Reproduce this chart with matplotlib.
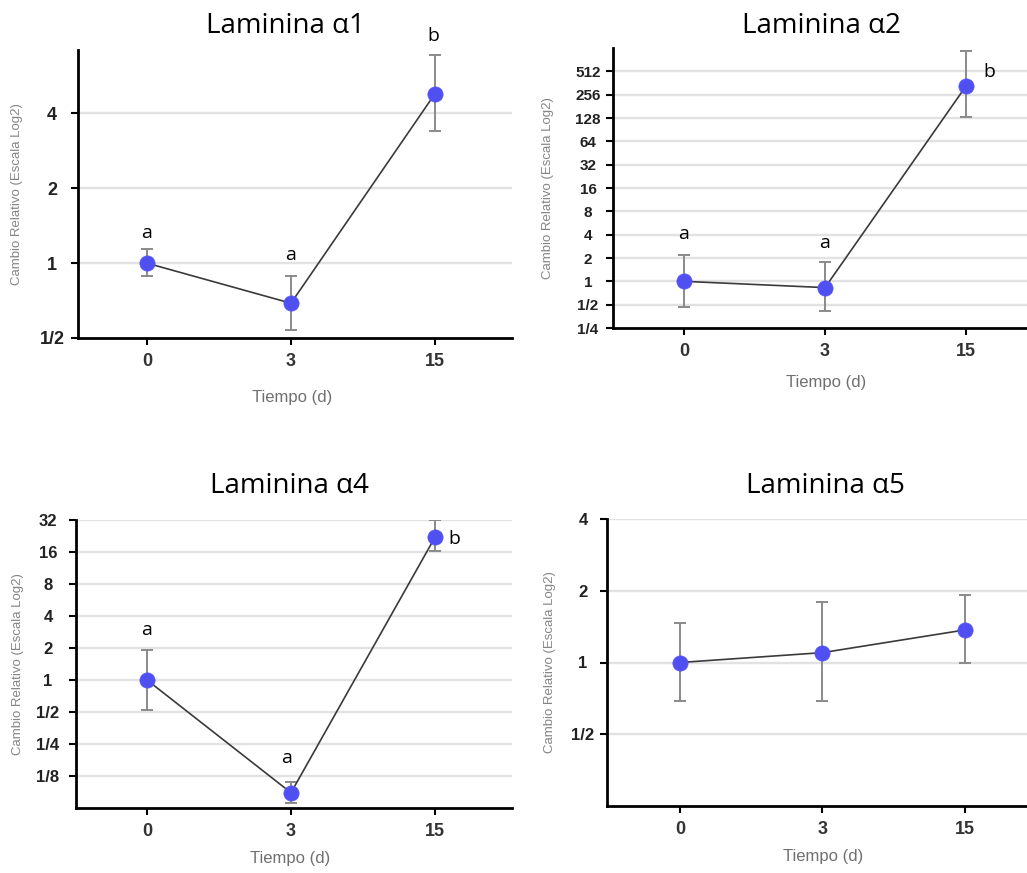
import matplotlib
matplotlib.use("Agg")
import matplotlib.pyplot as plt
from matplotlib.ticker import NullLocator

# ---------------- data ----------------
days = ["0", "3", "15"]

titles = ["Laminina α1", "Laminina α2", "Laminina α4", "Laminina α5"]

a1_mean = [1.0, 0.69, 4.8]
a1_low = [0.89, 0.54, 3.4]
a1_high = [1.14, 0.89, 6.9]
a1_letters = ["a", "a", "b"]

a2_mean = [1.0, 0.83, 330.0]
a2_low = [0.47, 0.41, 130.0]
a2_high = [2.2, 1.75, 940.0]
a2_letters = ["a", "a", "b"]

a4_mean = [1.0, 0.087, 22.0]
a4_low = [0.52, 0.07, 16.3]
a4_high = [1.9, 0.11, 32.0]
a4_letters = ["a", "a", "b"]

a5_mean = [1.0, 1.10, 1.37]
a5_low = [0.69, 0.69, 1.0]
a5_high = [1.47, 1.8, 1.92]
a5_letters = [None, None, None]

a1_yticks = [0.5, 1, 2, 4]
a1_ylabels = ["1/2", "1", "2", "4"]
a2_yticks = [0.25, 0.5, 1, 2, 4, 8, 16, 32, 64, 128, 256, 512]
a2_ylabels = ["1/4", "1/2", "1", "2", "4", "8", "16", "32", "64", "128", "256", "512"]
a4_yticks = [0.125, 0.25, 0.5, 1, 2, 4, 8, 16, 32]
a4_ylabels = ["1/8", "1/4", "1/2", "1", "2", "4", "8", "16", "32"]
a5_yticks = [0.5, 1, 2, 4]
a5_ylabels = ["1/2", "1", "2", "4"]

# ---------------- layout ----------------
W, H = 1027, 873
fig = plt.figure(figsize=(W / 100, H / 100), dpi=100)
fig.patch.set_facecolor("white")

AX_FONT = "Liberation Sans"
TITLE_FONT = "Open Sans"


def px(x, y):
    return x / W, 1 - y / H


panels = [
    dict(box=(78, 50, 512, 338), xlim=(-0.479, 2.535), ylim=(0.5, 7.2),
         mean=a1_mean, low=a1_low, high=a1_high, letters=a1_letters,
         yt=a1_yticks, yl=a1_ylabels, ytfs=13, ypad=13.7, title_xy=(285, 33),
         ylab_x=17, xlab_xy=(292, 398), grid_from=1,
         letter_off=[(0, 7), (0, 12), (-2, 10)], letter_mode=["top", "top", "top"]),
    dict(box=(613, 48, 1027, 328), xlim=(-0.504, 2.433), ylim=(0.25, 1024),
         mean=a2_mean, low=a2_low, high=a2_high, letters=a2_letters,
         yt=a2_yticks, yl=a2_ylabels, ytfs=11, ypad=13, title_xy=(821, 33),
         ylab_x=548, xlab_xy=(826, 382), grid_from=1,
         letter_off=[(0, 12), (0, 10), (23, 14)], letter_mode=["top", "top", "mean"]),
    dict(box=(76, 520, 512, 808), xlim=(-0.493, 2.535), ylim=(0.0625, 32),
         mean=a4_mean, low=a4_low, high=a4_high, letters=a4_letters,
         yt=a4_yticks, yl=a4_ylabels, ytfs=12, ypad=15.2, title_xy=(289, 493),
         ylab_x=18, xlab_xy=(290, 858), grid_from=0,
         letter_off=[(0, 11), (-4, 15), (19, -2)], letter_mode=["top", "top", "mean"]),
    dict(box=(607, 519, 1027, 806), xlim=(-0.512, 2.435), ylim=(0.25, 4),
         mean=a5_mean, low=a5_low, high=a5_high, letters=a5_letters,
         yt=a5_yticks, yl=a5_ylabels, ytfs=12, ypad=12.3, title_xy=(825, 493),
         ylab_x=550, xlab_xy=(823, 857), grid_from=0,
         letter_off=[(0, 0)] * 3, letter_mode=["top"] * 3),
]

for p, title in zip(panels, titles):
    x0, y0, x1, y1 = p["box"]
    ax = fig.add_axes([x0 / W, 1 - y1 / H, (x1 - x0) / W, (y1 - y0) / H])
    ax.set_yscale("log", base=2)
    ax.set_xlim(*p["xlim"])
    ax.set_ylim(*p["ylim"])
    ax.yaxis.set_minor_locator(NullLocator())

    for v in p["yt"][p["grid_from"]:]:
        ax.axhline(v, color="#e2e2e2", lw=1.7, zorder=0)

    xs = list(range(len(days)))
    m = p["mean"]
    yerr = [[mi - lo for mi, lo in zip(m, p["low"])],
            [hi - mi for mi, hi in zip(m, p["high"])]]
    ax.errorbar(xs, m, yerr=yerr, fmt="none", ecolor="#8a8a8a", elinewidth=1.4,
                capsize=4, capthick=1.4, zorder=2)
    ax.plot(xs, m, color="#3a3a3a", lw=1.2, zorder=3)
    ax.plot(xs, m, "o", color="#4f4ff2", ms=11, mec="#5a5af5", mew=0.5, zorder=4)

    for i, lt in enumerate(p["letters"]):
        if lt is None:
            continue
        dx, dy = p["letter_off"][i]
        yref = p["high"][i] if p["letter_mode"][i] == "top" else m[i]
        ax.annotate(lt, (i, yref), xytext=(dx, dy), textcoords="offset pixels",
                    ha="center", va="bottom" if p["letter_mode"][i] == "top" else "center",
                    fontsize=14, family=TITLE_FONT, color="black",
                    annotation_clip=False)

    ax.set_xticks(xs, days)
    ax.set_yticks(p["yt"], p["yl"])
    ax.tick_params(axis="both", direction="out", length=5, width=1.5, color="black")
    ax.tick_params(axis="x", pad=6)
    ax.tick_params(axis="y", pad=p["ypad"])
    for lab in ax.get_xticklabels():
        lab.set_fontfamily(AX_FONT)
        lab.set_fontweight("bold")
        lab.set_fontsize(13)
        lab.set_color("#333333")
    for lab in ax.get_yticklabels():
        lab.set_fontfamily(AX_FONT)
        lab.set_fontweight("bold")
        lab.set_fontsize(p["ytfs"])
        lab.set_color("#222222")
        lab.set_horizontalalignment("center")

    for s in ["top", "right"]:
        ax.spines[s].set_visible(False)
    for s in ["left", "bottom"]:
        ax.spines[s].set_linewidth(2)
        ax.spines[s].set_color("black")
    ax.set_facecolor("none")

    tx, ty = px(*p["title_xy"])
    fig.text(tx, ty, title, ha="center", va="baseline", fontsize=20, family=TITLE_FONT)
    lx, ly = px(p["ylab_x"], (y0 + y1) / 2)
    fig.text(lx, ly, "Cambio Relativo (Escala Log2)", rotation=90, ha="center", va="center",
             fontsize=9.5, family=AX_FONT, color="#858585")
    xx, xy = px(*p["xlab_xy"])
    fig.text(xx, xy, "Tiempo (d)", ha="center", va="center", fontsize=12,
             family=AX_FONT, color="#707070")

fig.savefig("out.png", dpi=100, facecolor="white")
